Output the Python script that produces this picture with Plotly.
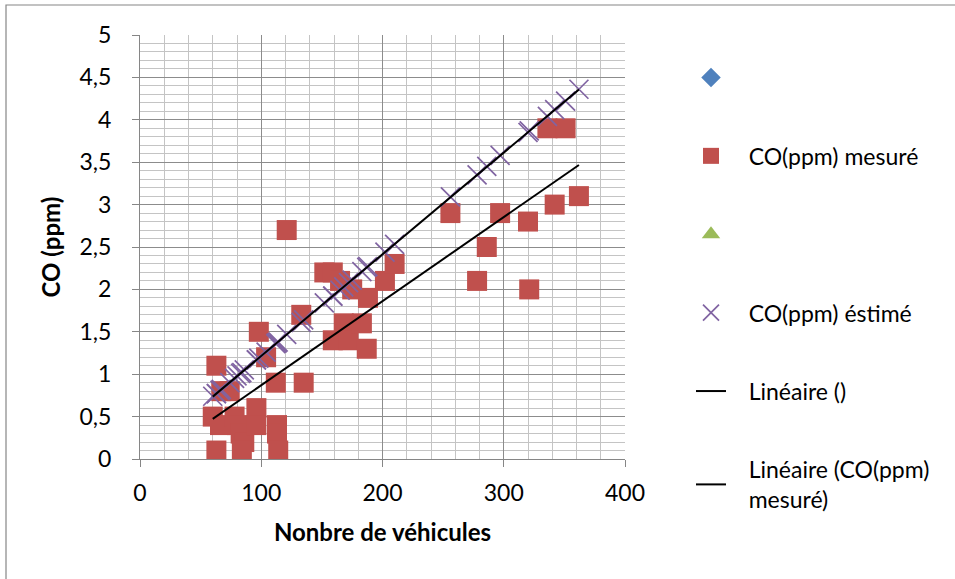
import numpy as np
import plotly.graph_objects as go

# Nombre de véhicules et CO mesuré (ppm)
vehicules = [60, 63, 63, 66, 67, 74, 78, 80, 83, 86, 84, 96, 96, 98, 104, 112, 113, 113,
             114, 121, 133, 135, 152, 159, 159, 165, 168, 172, 175, 183, 187, 188, 202,
             210, 256, 278, 286, 297, 320, 321, 336, 342, 351, 362]
co_mesure = [0.5, 1.1, 0.1, 0.4, 0.8, 0.8, 0.5, 0.4, 0.3, 0.2, 0.1, 0.6, 0.4, 1.5, 1.2,
             0.9, 0.4, 0.3, 0.1, 2.7, 1.7, 0.9, 2.2, 2.2, 1.4, 2.1, 1.6, 1.4, 2.0, 1.6,
             1.3, 1.9, 2.1, 2.3, 2.9, 2.1, 2.5, 2.9, 2.8, 2.0, 3.9, 3.0, 3.9, 3.1]
# CO estimé (ppm) pour les mêmes comptages
co_estime = [0.74, 0.77, 0.77, 0.81, 0.82, 0.90, 0.95, 0.98, 1.01, 1.05, 1.02, 1.17, 1.17,
             1.19, 1.26, 1.36, 1.37, 1.37, 1.38, 1.47, 1.61, 1.64, 1.84, 1.92, 1.92, 1.99,
             2.03, 2.08, 2.11, 2.21, 2.26, 2.27, 2.44, 2.53, 3.09, 3.35, 3.45, 3.58, 3.85,
             3.87, 4.04, 4.12, 4.22, 4.36]

y_ticks = [0, 0.5, 1, 1.5, 2, 2.5, 3, 3.5, 4, 4.5, 5]
y_ticktext = ["0", "0,5", "1", "1,5", "2", "2,5", "3", "3,5", "4", "4,5", "5"]
x_ticks = [0, 100, 200, 300, 400]

FONT = "Lato"
TICK_SIZE = 23
TITLE_SIZE = 24
LEGEND_SIZE = 23
W, H = 955, 579
ML, MR, MT, MB = 140, 330, 35, 120
PW, PH = W - ML - MR, H - MT - MB

PAD = "\u00a0\u00a0\u00a0"

x_arr = np.array(vehicules, dtype=float)
x_line = np.array([x_arr.min(), x_arr.max()])
fit_est = np.polyfit(x_arr, co_estime, 1)
fit_mes = np.polyfit(x_arr, co_mesure, 1)

fig = go.Figure()

fig.add_trace(go.Scatter(x=[None], y=[None], mode="markers", name="",
                         marker=dict(symbol="diamond", size=15, color="#4F81BD"),
                         legendgroup="a"))
fig.add_trace(go.Scatter(x=vehicules, y=co_mesure, mode="markers",
                         name=PAD + "CO(ppm) mesuré",
                         marker=dict(symbol="square", size=20, color="#C0504D",
                                     line=dict(width=0)),
                         legendgroup="b"))
fig.add_trace(go.Scatter(x=[None], y=[None], mode="markers", name="",
                         marker=dict(symbol="triangle-up", size=16, color="#9BBB59"),
                         legendgroup="c"))
fig.add_trace(go.Scatter(x=vehicules, y=co_estime, mode="markers",
                         name=PAD + "CO(ppm) éstimé",
                         marker=dict(symbol="x-thin-open", size=19,
                                     line=dict(width=1.7, color="#8064A2"),
                                     color="#8064A2"),
                         legendgroup="d"))
fig.add_trace(go.Scatter(x=x_line, y=np.polyval(fit_est, x_line), mode="lines",
                         name=PAD + "Linéaire ()", line=dict(color="black", width=2),
                         legendgroup="e"))
fig.add_trace(go.Scatter(x=x_line, y=np.polyval(fit_mes, x_line), mode="lines",
                         name=PAD + "Linéaire (CO(ppm)<br>" + PAD + "mesuré)",
                         line=dict(color="black", width=2),
                         legendgroup="f"))

axis_common = dict(
    showline=True, linecolor="#868686", linewidth=1,
    ticks="outside", ticklen=7, tickcolor="#868686", tickwidth=1,
    showgrid=True, gridcolor="#8C8C8C", gridwidth=1.3,
    zeroline=False,
    tickfont=dict(family=FONT, size=TICK_SIZE, color="black"),
)

fig.update_xaxes(range=[0, 400], tickvals=x_ticks, ticklabelstandoff=6,
                 minor=dict(dtick=20, showgrid=True, gridcolor="#C4C4C4", gridwidth=1.3),
                 title=dict(text="<b>Nonbre de véhicules</b>",
                            font=dict(family=FONT, size=TITLE_SIZE, color="black"),
                            standoff=19),
                 **axis_common)
fig.update_yaxes(range=[0, 5], tickvals=y_ticks, ticktext=y_ticktext, ticklabelstandoff=16,
                 minor=dict(dtick=0.1, showgrid=True, gridcolor="#C4C4C4", gridwidth=1.3),
                 title=dict(text="<b>CO (ppm)</b>",
                            font=dict(family=FONT, size=TITLE_SIZE, color="black"),
                            standoff=12),
                 **axis_common)

# cadre gris autour du graphique
fig.add_shape(type="rect", xref="paper", yref="paper",
              x0=(6 - ML) / PW, x1=(W + 10 - ML) / PW,
              y0=(H - MB - (H + 10)) / PH, y1=(H - MB - 5) / PH,
              line=dict(color="#868686", width=1.2), layer="below")

fig.update_layout(
    width=W, height=H,
    margin=dict(l=ML, r=MR, t=MT, b=MB),
    paper_bgcolor="white", plot_bgcolor="white",
    font=dict(family=FONT, size=LEGEND_SIZE, color="black"),
    showlegend=True,
    legend=dict(x=(691 - ML) / PW, xanchor="left", y=(H - MB - 56) / PH, yanchor="top",
                traceorder="grouped", tracegroupgap=45.5, maxheight=560,
                font=dict(family=FONT, size=LEGEND_SIZE, color="black"),
                bgcolor="rgba(0,0,0,0)", valign="middle"),
)

fig.write_html("out.html")
